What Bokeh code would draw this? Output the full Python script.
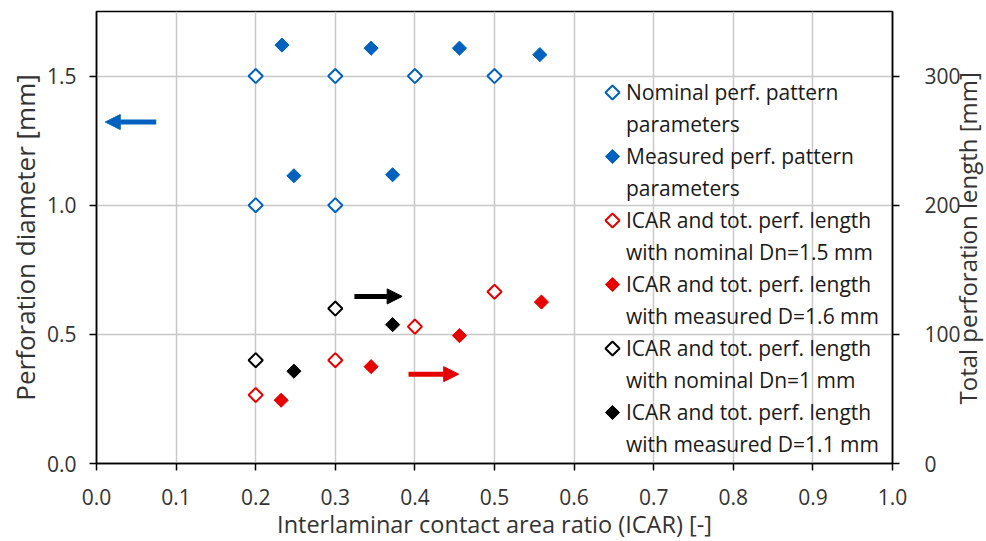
import numpy as np
from bokeh.plotting import figure
from bokeh.models import (Range1d, LinearAxis, Legend, LegendItem, Arrow, NormalHead,
                          FixedTicker, NumeralTickFormatter)
from bokeh.embed import file_html
from bokeh.resources import INLINE

# ---- data ----
nom_icar = [0.2, 0.3, 0.4, 0.5, 0.2, 0.3]
nom_diam = [1.5, 1.5, 1.5, 1.5, 1.0, 1.0]
meas_icar = [0.233, 0.345, 0.456, 0.557, 0.248, 0.372]
meas_diam = [1.62, 1.608, 1.608, 1.583, 1.114, 1.118]

icar_nom15 = [0.2, 0.3, 0.4, 0.5]
len_nom15 = [53, 80, 106, 133]
icar_meas16 = [0.232, 0.345, 0.456, 0.559]
len_meas16 = [49, 75, 99, 125]
icar_nom1 = [0.2, 0.3]
len_nom1 = [80, 120]
icar_meas11 = [0.248, 0.372]
len_meas11 = [71.5, 107.5]

x_ticks = [0.0, 0.1, 0.2, 0.3, 0.4, 0.5, 0.6, 0.7, 0.8, 0.9, 1.0]
yl_ticks = [0.0, 0.5, 1.0, 1.5]
yr_ticks = [0, 100, 200, 300]

labels = [
    ("Nominal perf. pattern", "parameters"),
    ("Measured perf. pattern", "parameters"),
    ("ICAR and tot. perf. length", "with nominal Dn=1.5 mm"),
    ("ICAR and tot. perf. length", "with measured D=1.6 mm"),
    ("ICAR and tot. perf. length", "with nominal Dn=1 mm"),
    ("ICAR and tot. perf. length", "with measured D=1.1 mm"),
]
right_title = "Total perforation length [mm]"

# arrows (annotation positions, left-axis units)
blue_arrow = (0.075, 0.011, 1.322)
black_arrow = (0.324, 0.384, 0.647)
red_arrow = (0.392, 0.455, 0.346)

BLUE = "#0062BE"
RED = "#E60000"
BLACK = "#000000"
FONT = "Open Sans"
TXT = "#333333"

X_MAX, YL_MAX, YR_MAX = 1.0, 1.75, 350
FW, FH = 796, 452

p = figure(frame_width=FW, frame_height=FH, output_backend="svg", toolbar_location=None,
           x_range=Range1d(0, X_MAX), y_range=Range1d(0, YL_MAX),
           min_border_left=96, min_border_right=20, min_border_top=11, min_border_bottom=60)
p.extra_y_ranges = {"len": Range1d(0, YR_MAX)}
p.outline_line_color = "black"
p.outline_line_width = 1.5
p.background_fill_color = "white"
p.border_fill_color = "white"

xaxis = p.xaxis[0]
laxis = p.yaxis[0]
raxis = LinearAxis(y_range_name="len")
p.add_layout(raxis, "right")

xaxis.ticker = FixedTicker(ticks=x_ticks)
xaxis.formatter = NumeralTickFormatter(format="0.0")
laxis.ticker = FixedTicker(ticks=yl_ticks)
laxis.formatter = NumeralTickFormatter(format="0.0")
raxis.ticker = FixedTicker(ticks=yr_ticks)

xaxis.axis_label = "Interlaminar contact area ratio (ICAR) [-]"
laxis.axis_label = "Perforation diameter [mm]"

for ax in [xaxis, laxis, raxis]:
    ax.axis_line_color = "black"
    ax.axis_line_width = 1.5
    ax.major_tick_line_color = "black"
    ax.major_tick_line_width = 1.5
    ax.major_tick_out = 7
    ax.major_tick_in = 0
    ax.minor_tick_line_color = None
    ax.major_label_text_font = FONT
    ax.major_label_text_font_size = "21px"
    ax.major_label_text_color = TXT
    ax.axis_label_text_font = FONT
    ax.axis_label_text_font_size = "24px"
    ax.axis_label_text_font_style = "normal"
    ax.axis_label_text_color = TXT

laxis.axis_label_text_font_size = "26px"
xaxis.axis_label_text_font_size = "23.5px"
xaxis.major_label_standoff = 18
xaxis.axis_label_standoff = 0
laxis.major_label_standoff = 13
laxis.axis_label_standoff = 1
raxis.major_label_standoff = 25

# right-hand title: reads bottom-to-top as in the reference; it is set as the
# single (rotated) label of an outer, line-less axis on the right
TITLE_START_PX = 59                       # px above the frame bottom where the text starts
t0 = TITLE_START_PX / FH * YR_MAX
taxis = LinearAxis(y_range_name="len", ticker=FixedTicker(ticks=[t0]),
                   major_label_overrides={t0: right_title},
                   major_label_orientation=np.pi / 2,
                   axis_line_color=None, major_tick_line_color=None, minor_tick_line_color=None,
                   major_tick_out=0, major_label_standoff=4,
                   major_label_text_font=FONT, major_label_text_font_size="24px",
                   major_label_text_color=TXT)
p.add_layout(taxis, "right")

p.xgrid.grid_line_color = "#c8c8c8"
p.xgrid.grid_line_width = 1.5
p.ygrid.grid_line_color = "#c8c8c8"
p.ygrid.grid_line_width = 1.5

# series
common = dict(marker="square", angle=np.pi / 4, size=10)
styles = [
    dict(line_color=BLUE, fill_color="white", line_width=2),
    dict(line_color=BLUE, fill_color=BLUE, line_width=1),
    dict(line_color=RED, fill_color="white", line_width=2),
    dict(line_color=RED, fill_color=RED, line_width=1),
    dict(line_color=BLACK, fill_color="white", line_width=2),
    dict(line_color=BLACK, fill_color=BLACK, line_width=1),
]
r1 = p.scatter(nom_icar, nom_diam, **common, **styles[0])
r2 = p.scatter(meas_icar, meas_diam, **common, **styles[1])
r3 = p.scatter(icar_nom15, len_nom15, y_range_name="len", **common, **styles[2])
r4 = p.scatter(icar_meas16, len_meas16, y_range_name="len", **common, **styles[3])
r5 = p.scatter(icar_nom1, len_nom1, y_range_name="len", **common, **styles[4])
r6 = p.scatter(icar_meas11, len_meas11, y_range_name="len", **common, **styles[5])

# arrows
for (xs, xe, yy), c in [(blue_arrow, BLUE), (black_arrow, BLACK), (red_arrow, RED)]:
    p.add_layout(Arrow(end=NormalHead(size=15, fill_color=c, line_color=c, line_width=1),
                       x_start=xs, y_start=yy, x_end=xe, y_end=yy,
                       line_color=c, line_width=5))

# legend (text via Legend, rotated-square keys drawn at the legend rows)
LEG_GLYPH_X = 516      # px from frame left (key centre)
LEG_TOP = 65           # px from frame top
LEG_ROW = 32           # px per text line
LEG_GLYPH_W = 18
LEG_STANDOFF = 5

blank = p.scatter(x=[], y=[], marker="square", line_alpha=0, fill_alpha=0)
items = []
for (l1, l2) in labels:
    items.append(LegendItem(label=l1, renderers=[blank]))
    items.append(LegendItem(label=l2, renderers=[blank]))

leg_bottom = FH - (LEG_TOP + LEG_ROW * len(items))
legend = Legend(items=items, location=(LEG_GLYPH_X - LEG_GLYPH_W // 2, leg_bottom),
                padding=0, margin=0, spacing=0,
                label_height=LEG_ROW, glyph_height=LEG_ROW, glyph_width=LEG_GLYPH_W,
                label_standoff=LEG_STANDOFF,
                label_text_font=FONT, label_text_font_size="21px", label_text_color="#1a1a1a",
                border_line_alpha=0, background_fill_alpha=0)
p.add_layout(legend, "center")

key_x = LEG_GLYPH_X / FW * X_MAX
for k, st in enumerate(styles):
    key_y = (FH - (LEG_TOP + LEG_ROW * (2 * k + 0.5))) / FH * YL_MAX
    p.scatter([key_x], [key_y], **common, **st)

open("out.html", "w").write(file_html(p, INLINE))
